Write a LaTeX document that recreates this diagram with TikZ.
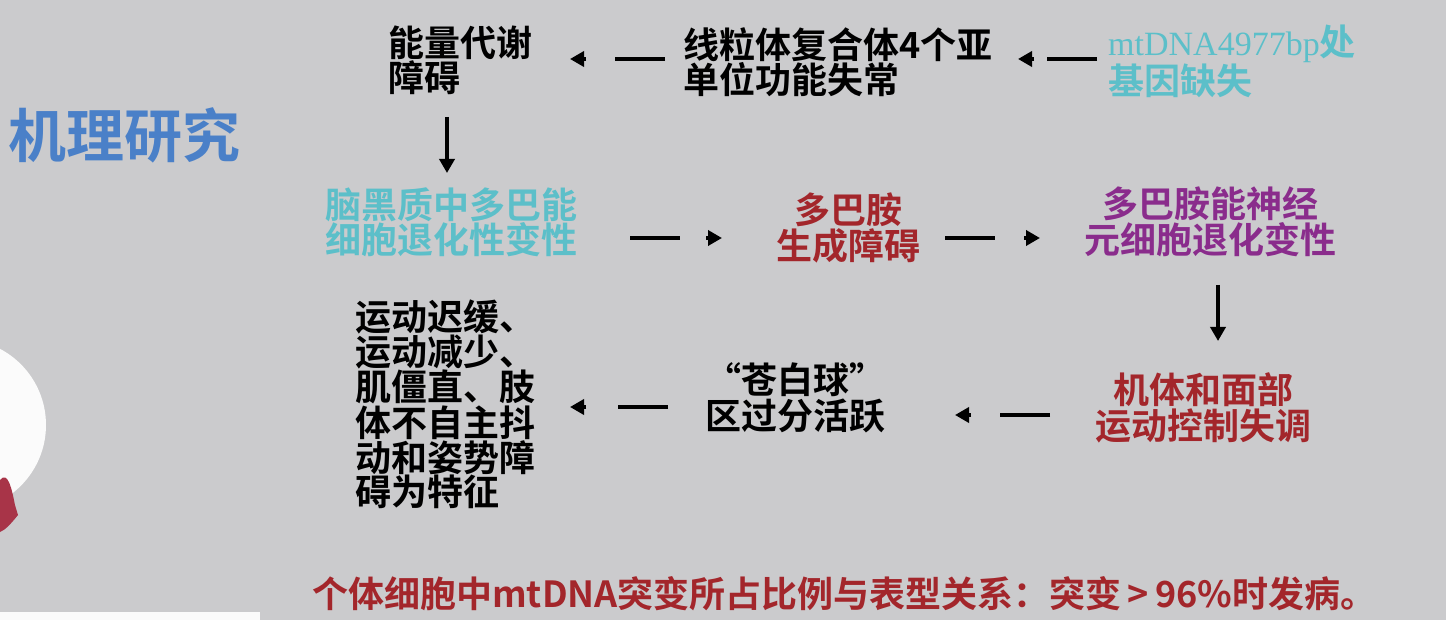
\documentclass[tikz,border=0pt]{standalone}
\usepackage{fontspec}
\setmainfont{Noto Sans CJK SC}[BoldFont={* Bold}]
\newfontfamily\cjk{Noto Sans CJK SC Bold}
\newfontfamily\serifx{Liberation Serif}
\usetikzlibrary{arrows.meta}
\definecolor{bg}{HTML}{CBCBCD}
\definecolor{tblue}{HTML}{4A80C8}
\definecolor{tcyan}{HTML}{5CBFC9}
\definecolor{tred}{HTML}{A3262B}
\definecolor{tpur}{HTML}{8A2C8C}
\definecolor{cred}{HTML}{A83448}
\newcommand\darr[3]{%
  \coordinate (s) at (#1,#3); \coordinate (t) at (#2,#3);
  \draw[line width=3.5pt] (s) -- ($(s)!50pt!(t)$);
  \draw[varr] ($(t)!16pt!(s)$) -- (t);}
\usetikzlibrary{calc}
\begin{document}
\begin{tikzpicture}[x=1pt,y=-1pt,
  txt/.style={font=\cjk\fontsize{36}{34}\selectfont,inner sep=0pt,align=left},
  ctxt/.style={font=\cjk\fontsize{36}{36}\selectfont,inner sep=0pt,align=center},
  varr/.style={line width=3.5pt,-{Triangle[length=14pt,width=15pt]}}]
\fill[bg] (0,0) rectangle (1446,620);
\useasboundingbox (0,0) rectangle (1446,620);
\fill[white!92!bg] (-40,425) circle (86);
\fill[cred] (0,480) .. controls (8,470) and (12,490) .. (15,505) -- (18,515) .. controls (10,525) and (5,530) .. (0,532) -- cycle;
\fill[white!92!bg] (0,612) rectangle (260,620);
\node[anchor=west,font=\cjk\fontsize{58}{60}\selectfont,text=tblue,inner sep=0pt] (title) at (8,135) {机理研究};
\node[txt,anchor=west] (a) at (388,60) {能量代谢\\障碍};
\node[txt,anchor=west] (b) at (683,62) {线粒体复合体4个亚\\单位功能失常};
\node[txt,anchor=west,text=tcyan] (c) at (1108,61) {{\serifx\fontsize{34}{34}\selectfont mtDNA4977bp}处\\基因缺失};
\node[txt,anchor=west,text=tcyan] (d) at (325,222) {脑黑质中多巴能\\细胞退化性变性};
\node[ctxt,text=tred] (e) at (848,228) {多巴胺\\生成障碍};
\node[ctxt,text=tpur] (f) at (1210,222) {多巴胺能神经\\元细胞退化变性};
\node[ctxt,text=tred] (g) at (1203,408) {机体和面部\\运动控制失调};
\node[ctxt] (h) at (795,398) {“苍白球”\\区过分活跃};
\node[txt,anchor=west] (i) at (355,404) {运动迟缓、\\运动减少、\\肌僵直、肢\\体不自主抖\\动和姿势障\\碍为特征};
\node[anchor=west,font=\cjk\fontsize{36}{36}\selectfont,text=tred,inner sep=0pt] (j) at (312,594) {个体细胞中mtDNA突变所占比例与表型关系：突变\,>\,96\%时发病。};
\darr{665}{570}{59}
\darr{1097}{1018}{59}
\draw[varr] (447,117) -- (447,173);
\darr{630}{722}{238}
\darr{945}{1040}{238}
\draw[varr] (1218,285) -- (1218,341);
\darr{1050}{955}{415}
\darr{668}{570}{407}
\end{tikzpicture}
\end{document}
